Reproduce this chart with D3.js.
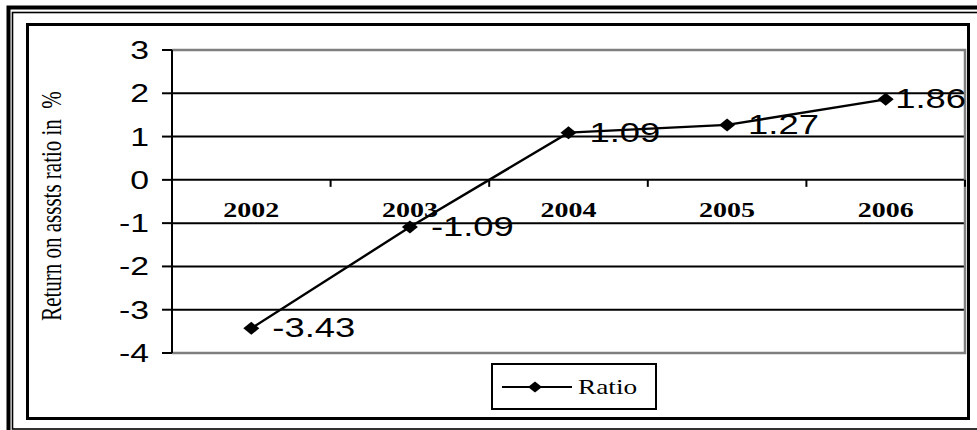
<!DOCTYPE html>
<html>
<head>
<meta charset="utf-8">
<script src="https://cdn.jsdelivr.net/npm/d3@7"></script>
<style>
  html, body { margin: 0; padding: 0; background: #fff; }
  svg { display: block; }
</style>
</head>
<body>
<svg id="chart" width="977" height="430"></svg>
<script>
// Return on assets ratio by year
const years = ["2002", "2003", "2004", "2005", "2006"];
const ratio = [-3.43, -1.09, 1.09, 1.27, 1.86];
const yTicks = [3, 2, 1, 0, -1, -2, -3, -4];
const seriesName = "Ratio";
const yTitle = "Return on asssts ratio in  %";

const svg = d3.select("#chart");
const W = 977, H = 430;

// glyphs are drawn wider than tall
const SANS = "'Liberation Sans', Arial, sans-serif";
const SERIF = "'Liberation Serif', 'Times New Roman', serif";

function stretchedText(g, x, y, str, opts) {
  const t = g.append("text")
    .attr("transform", `translate(${x},${y}) scale(${opts.sx},1)` + (opts.rotate ? ` rotate(${opts.rotate})` : ""))
    .attr("font-family", opts.family)
    .attr("font-size", opts.size)
    .attr("font-weight", opts.weight || "normal")
    .attr("text-anchor", opts.anchor || "start")
    .attr("fill", "#000")
    .style("white-space", "pre")
    .text(str);
  return t;
}

svg.append("rect").attr("width", W).attr("height", H).attr("fill", "#fff");

// outer double frame
svg.append("rect").attr("x", 8.5).attr("y", 7.5).attr("width", 1100).attr("height", 1000)
  .attr("fill", "none").attr("stroke", "#000").attr("stroke-width", 4);
svg.append("rect").attr("x", 12.5).attr("y", 12.5).attr("width", 1100).attr("height", 416.5)
  .attr("fill", "none").attr("stroke", "#000").attr("stroke-width", 1.6);

// chart area frame
svg.append("rect").attr("x", 27.5).attr("y", 24.5).attr("width", 941).attr("height", 394)
  .attr("fill", "#fff").attr("stroke", "#000").attr("stroke-width", 3);

const plot = { left: 172, right: 965, top: 50, bottom: 353 };

const x = d3.scaleBand().domain(years).range([plot.left, plot.right]).padding(0);
const cx = d => x(d) + x.bandwidth() / 2;
const y = d3.scaleLinear().domain([-4, 3]).range([plot.bottom, plot.top]);

const g = svg.append("g");

// horizontal gridlines
g.selectAll("line.grid").data(yTicks.filter(v => v !== 3 && v !== -4)).join("line")
  .attr("class", "grid")
  .attr("x1", plot.left).attr("x2", plot.right)
  .attr("y1", d => y(d)).attr("y2", d => y(d))
  .attr("stroke", "#000").attr("stroke-width", 2);

// plot area border (gray)
g.append("path")
  .attr("d", `M${plot.left},${y(3)}H${plot.right}V${y(-4)}H${plot.left}`)
  .attr("fill", "none").attr("stroke", "#7f7f7f").attr("stroke-width", 2.5);

// y axis line and ticks
g.append("line").attr("x1", plot.left).attr("x2", plot.left)
  .attr("y1", y(3)).attr("y2", y(-4)).attr("stroke", "#000").attr("stroke-width", 2);
g.selectAll("line.ytick").data(yTicks).join("line")
  .attr("class", "ytick")
  .attr("x1", plot.left - 10).attr("x2", plot.left)
  .attr("y1", d => y(d)).attr("y2", d => y(d))
  .attr("stroke", "#000").attr("stroke-width", 2);
yTicks.forEach(v => {
  stretchedText(g, 149, y(v) + 9, String(v), { sx: 1.35, family: SANS, size: 25, anchor: "end" });
});

// category tick marks on the zero line
const bounds = years.map(d => x(d)).concat([plot.right]);
g.selectAll("line.xtick").data(bounds).join("line")
  .attr("class", "xtick")
  .attr("x1", d => d).attr("x2", d => d)
  .attr("y1", y(0)).attr("y2", y(0) + 7)
  .attr("stroke", "#000").attr("stroke-width", 2);

// category labels
years.forEach(yr => {
  stretchedText(g, cx(yr), 217, yr, { sx: 1.4, family: SERIF, size: 20, weight: "bold", anchor: "middle" });
});

// y axis title
stretchedText(g, 61, 206, yTitle, { sx: 1.45, family: SERIF, size: 21, anchor: "middle", rotate: -90 });

// series line
const line = d3.line().x((d, i) => cx(years[i])).y(d => y(d));
g.append("path").datum(ratio)
  .attr("d", line)
  .attr("fill", "none").attr("stroke", "#000").attr("stroke-width", 2.4);

// diamond markers
const diamond = (px, py, w, h) => `M${px},${py - h / 2}L${px + w / 2},${py}L${px},${py + h / 2}L${px - w / 2},${py}Z`;
g.selectAll("path.mark").data(ratio).join("path")
  .attr("class", "mark")
  .attr("d", (d, i) => diamond(cx(years[i]), y(d), 16, 13))
  .attr("fill", "#000");

// value labels, kept inside the plot area
ratio.forEach((v, i) => {
  const px = cx(years[i]), py = y(v);
  const sx = 1.3;
  const t = stretchedText(g, px + 21, py + 9, v.toFixed(2), { sx, family: SANS, size: 28 });
  const w = t.node().getComputedTextLength() * sx;
  let start = px + 21;
  if (start + w > plot.right + 1) start = plot.right + 1 - w;
  t.attr("transform", `translate(${start},${py + 9}) scale(${sx},1)`);
});

// legend
const lg = svg.append("g");
lg.append("rect").attr("x", 492).attr("y", 364).attr("width", 164).attr("height", 45)
  .attr("fill", "#fff").attr("stroke", "#000").attr("stroke-width", 2);
lg.append("line").attr("x1", 502).attr("x2", 572).attr("y1", 387).attr("y2", 387)
  .attr("stroke", "#000").attr("stroke-width", 2);
lg.append("path").attr("d", diamond(535, 387, 14, 11)).attr("fill", "#000");
stretchedText(lg, 578, 394, seriesName, { sx: 1.3, family: SERIF, size: 21 });
</script>
</body>
</html>
